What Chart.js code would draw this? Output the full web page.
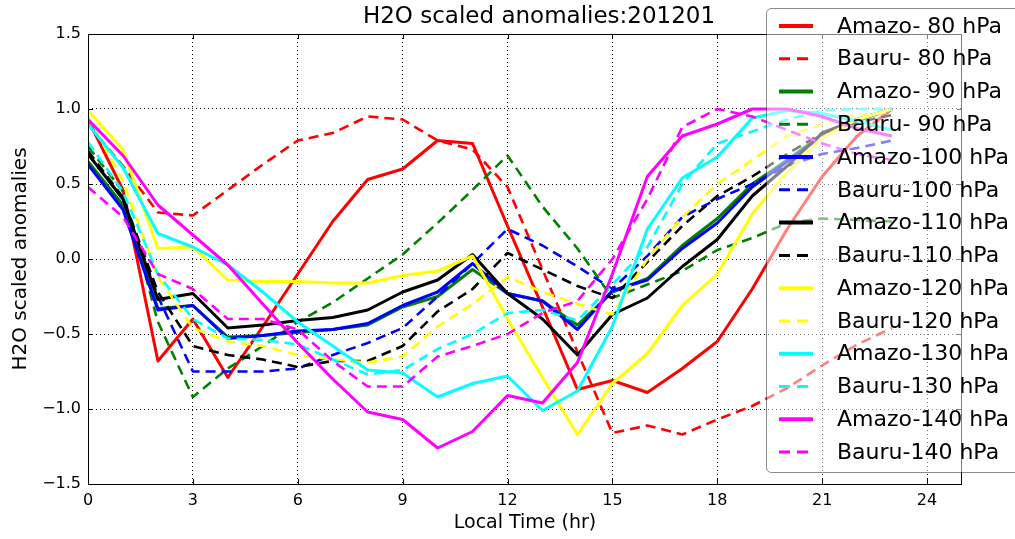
<!DOCTYPE html>
<html><head><meta charset="utf-8">
<script src="https://cdn.jsdelivr.net/npm/chart.js@4.4.1/dist/chart.umd.min.js"></script>
<style>html,body{margin:0;padding:0;background:#fff;}#wrap{width:1015px;height:539px;position:relative}</style>
</head><body><div id="wrap"><canvas id="c" width="1015" height="539"></canvas></div>
<script>
const hours = [0,1,2,3,4,5,6,7,8,9,10,11,12,13,14,15,16,17,18,19,20,21,22,23];
const xTicks = [0,3,6,9,12,15,18,21,24];
const yTicks = [-1.5,-1.0,-0.5,0.0,0.5,1.0,1.5];

const amazo80  = [0.93,0.46,-0.68,-0.40,-0.79,-0.45,-0.10,0.25,0.53,0.60,0.79,0.77,0.22,-0.32,-0.87,-0.81,-0.89,-0.73,-0.55,-0.20,0.20,0.55,0.82,1.00];
const bauru80  = [0.90,0.62,0.31,0.29,0.46,0.63,0.79,0.84,0.95,0.93,0.79,0.73,0.48,-0.07,-0.62,-1.16,-1.11,-1.17,-1.07,-0.98,-0.86,-0.71,-0.57,-0.46];
const amazo90  = [0.65,0.36,-0.33,-0.31,-0.52,-0.51,-0.49,-0.47,-0.44,-0.32,-0.25,-0.07,-0.23,-0.28,-0.44,-0.22,-0.13,0.09,0.27,0.50,0.66,0.83,0.92,1.00];
const bauru90  = [0.75,0.45,-0.42,-0.92,-0.73,-0.58,-0.42,-0.29,-0.13,0.03,0.24,0.46,0.69,0.35,0.07,-0.26,-0.17,-0.08,0.06,0.14,0.24,0.27,0.26,0.25];
const amazo100 = [0.63,0.33,-0.34,-0.31,-0.53,-0.51,-0.48,-0.47,-0.43,-0.31,-0.22,-0.03,-0.23,-0.28,-0.47,-0.21,-0.14,0.07,0.24,0.48,0.65,0.82,0.93,1.00];
const bauru100 = [0.70,0.40,-0.25,-0.75,-0.75,-0.75,-0.73,-0.64,-0.56,-0.46,-0.25,-0.03,0.20,0.09,-0.05,-0.20,0.02,0.28,0.40,0.50,0.62,0.70,0.74,0.79];
const amazo110 = [0.70,0.40,-0.27,-0.23,-0.46,-0.44,-0.41,-0.39,-0.34,-0.22,-0.14,0.03,-0.23,-0.40,-0.64,-0.37,-0.26,-0.05,0.13,0.42,0.62,0.84,0.93,1.00];
const bauru110 = [0.72,0.41,-0.22,-0.58,-0.64,-0.67,-0.72,-0.68,-0.68,-0.58,-0.35,-0.20,0.04,-0.07,-0.18,-0.26,-0.02,0.22,0.42,0.55,0.70,0.84,0.91,0.96];
const amazo120 = [0.99,0.73,0.07,0.08,-0.14,-0.15,-0.15,-0.16,-0.16,-0.11,-0.08,0.02,-0.40,-0.79,-1.17,-0.83,-0.63,-0.31,-0.10,0.30,0.58,0.81,0.93,1.00];
const bauru120 = [0.95,0.52,-0.12,-0.46,-0.55,-0.58,-0.64,-0.67,-0.69,-0.65,-0.45,-0.30,-0.12,-0.22,-0.30,-0.37,0.00,0.28,0.50,0.66,0.82,0.90,0.96,0.98];
const amazo130 = [0.90,0.61,0.17,0.08,-0.04,-0.22,-0.42,-0.58,-0.74,-0.76,-0.92,-0.83,-0.78,-1.01,-0.88,-0.45,0.20,0.54,0.68,0.94,0.99,0.97,0.92,0.86];
const bauru130 = [0.78,0.45,-0.10,-0.40,-0.53,-0.54,-0.57,-0.67,-0.77,-0.74,-0.60,-0.50,-0.36,-0.34,-0.41,-0.17,0.08,0.50,0.77,0.85,0.93,0.99,1.00,1.00];
const amazo140 = [0.93,0.69,0.36,0.16,-0.04,-0.30,-0.56,-0.80,-1.02,-1.07,-1.26,-1.15,-0.91,-0.96,-0.69,-0.10,0.55,0.82,0.90,1.00,1.00,0.95,0.87,0.82];
const bauru140 = [0.48,0.28,-0.10,-0.20,-0.40,-0.40,-0.47,-0.68,-0.85,-0.85,-0.65,-0.58,-0.50,-0.36,-0.28,0.00,0.40,0.88,1.00,0.95,0.86,0.77,0.70,0.66];

const seriesLabels = ['Amazo- 80 hPa','Bauru- 80 hPa','Amazo- 90 hPa','Bauru- 90 hPa','Amazo-100 hPa','Bauru-100 hPa','Amazo-110 hPa','Bauru-110 hPa','Amazo-120 hPa','Bauru-120 hPa','Amazo-130 hPa','Bauru-130 hPa','Amazo-140 hPa','Bauru-140 hPa'];
const seriesValues = [amazo80,bauru80,amazo90,bauru90,amazo100,bauru100,amazo110,bauru110,amazo120,bauru120,amazo130,bauru130,amazo140,bauru140];
const levelColors = ['#ff0000','#008000','#0000ff','#000000','#ffff00','#00ffff','#ff00ff'];

const FONT = 'DejaVu Sans';
const DASH = [10,6];

const datasets = seriesValues.map((vals, k) => {
  const dashed = k % 2 === 1;
  return {
    label: seriesLabels[k],
    data: hours.map((h, i) => ({x: h, y: vals[i]})),
    borderColor: levelColors[Math.floor(k/2)],
    backgroundColor: levelColors[Math.floor(k/2)],
    borderWidth: dashed ? 2.6 : 3,
    borderDash: dashed ? DASH : [],
    borderCapStyle: 'butt',
    borderJoinStyle: 'round',
    pointRadius: 0,
    fill: false,
    tension: 0,
    order: seriesValues.length - 1 - k
  };
});

const decorPlugin = {
  id: 'decor',
  afterDraw(chart) {
    const ctx = chart.ctx;
    const a = chart.chartArea;
    const xs = chart.scales.x, ys = chart.scales.y;
    ctx.save();
    // title
    ctx.fillStyle = '#000';
    ctx.font = '23px "' + FONT + '"';
    ctx.textAlign = 'center';
    ctx.textBaseline = 'middle';
    ctx.fillText('H2O scaled anomalies:201201', (a.left + a.right) / 2 + 14, 17);
    // frame
    ctx.strokeStyle = '#000';
    ctx.lineWidth = 1;
    ctx.setLineDash([]);
    ctx.strokeRect(Math.round(a.left) + 0.5, Math.round(a.top) + 0.5, Math.round(a.right - a.left) - 1, Math.round(a.bottom - a.top));
    // inner ticks
    ctx.beginPath();
    xTicks.forEach(v => {
      const px = Math.round(xs.getPixelForValue(v)) + 0.5;
      ctx.moveTo(px, a.bottom); ctx.lineTo(px, a.bottom - 5);
      ctx.moveTo(px, a.top); ctx.lineTo(px, a.top + 5);
    });
    yTicks.forEach(v => {
      const py = Math.round(ys.getPixelForValue(v)) + 0.5;
      ctx.moveTo(a.left, py); ctx.lineTo(a.left + 5, py);
      ctx.moveTo(a.right, py); ctx.lineTo(a.right - 5, py);
    });
    ctx.stroke();
    // legend
    const bx = 766.5, by = 8.5, bw = 280, bh = 464, r = 5;
    ctx.beginPath();
    ctx.moveTo(bx + r, by);
    ctx.lineTo(bx + bw - r, by); ctx.arcTo(bx + bw, by, bx + bw, by + r, r);
    ctx.lineTo(bx + bw, by + bh - r); ctx.arcTo(bx + bw, by + bh, bx + bw - r, by + bh, r);
    ctx.lineTo(bx + r, by + bh); ctx.arcTo(bx, by + bh, bx, by + bh - r, r);
    ctx.lineTo(bx, by + r); ctx.arcTo(bx, by, bx + r, by, r);
    ctx.closePath();
    ctx.fillStyle = 'rgba(255,255,255,0.5)';
    ctx.fill();
    ctx.strokeStyle = 'rgba(0,0,0,0.45)';
    ctx.lineWidth = 1;
    ctx.stroke();
    ctx.font = '22px "' + FONT + '"';
    ctx.textAlign = 'left';
    ctx.textBaseline = 'middle';
    chart.data.datasets.forEach((ds, i) => {
      const y = 26 + i * 32.77;
      ctx.beginPath();
      ctx.strokeStyle = ds.borderColor;
      ctx.lineWidth = ds.borderDash.length ? 3 : 4;
      ctx.setLineDash(ds.borderDash.length ? [11, 7] : []);
      ctx.moveTo(779, y); ctx.lineTo(813, y);
      ctx.stroke();
      ctx.setLineDash([]);
      ctx.fillStyle = '#000';
      ctx.fillText(ds.label, 837, y + 1);
    });
    ctx.restore();
  }
};

new Chart(document.getElementById('c'), {
  type: 'line',
  data: { datasets },
  options: {
    responsive: false,
    animation: false,
    devicePixelRatio: 1,
    layout: { padding: { top: 34, right: 53, left: 0, bottom: 0 } },
    plugins: { legend: { display: false }, title: { display: false }, tooltip: { enabled: false } },
    scales: {
      x: {
        type: 'linear', min: 0, max: 25,
        afterBuildTicks: s => { s.ticks = xTicks.map(v => ({ value: v })); },
        afterFit: s => { s.height = 55; },
        ticks: { font: { family: FONT, size: 16 }, color: '#000', padding: 7, maxRotation: 0, autoSkip: false, callback: v => String(v) },
        grid: { color: '#000', lineWidth: 1, drawTicks: false },
        border: { display: false, dash: [1, 3] },
        title: { display: true, text: 'Local Time (hr)', font: { family: FONT, size: 19 }, color: '#000', padding: { top: 0, bottom: 5 } }
      },
      y: {
        type: 'linear', min: -1.5, max: 1.5,
        afterBuildTicks: s => { s.ticks = yTicks.map(v => ({ value: v })); },
        afterFit: s => { s.width = 88; },
        ticks: { font: { family: FONT, size: 16 }, color: '#000', padding: 7, callback: v => (v < 0 ? '\u2212' : '') + Math.abs(v).toFixed(1) },
        grid: { color: '#000', lineWidth: 1, drawTicks: false },
        border: { display: false, dash: [1, 3] },
        title: { display: true, text: 'H2O scaled anomalies', font: { family: FONT, size: 20 }, color: '#000', padding: { top: 9, bottom: 0 } }
      }
    }
  },
  plugins: [decorPlugin]
});
</script>
</body></html>
